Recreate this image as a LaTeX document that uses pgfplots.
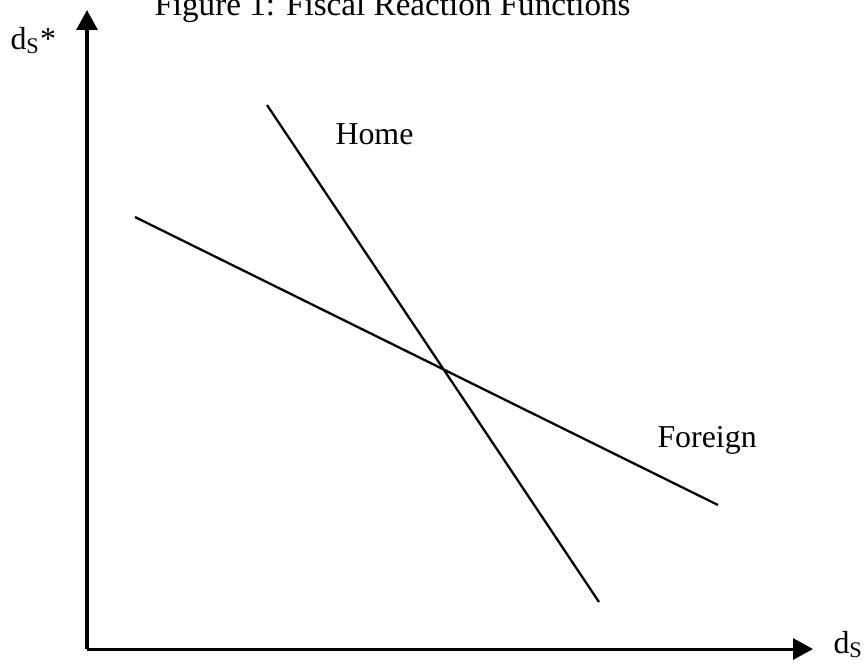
\documentclass[border=0pt]{standalone}
\usepackage{pgfplots}
\pgfplotsset{compat=1.18}
\usepackage{fontspec}
\setmainfont{Liberation Serif}
\usetikzlibrary{arrows.meta}
\tikzset{lbl/.style={font=\fontsize{12.6}{15}\selectfont, inner sep=0pt, anchor=base west}}
\begin{document}
\begin{tikzpicture}
\begin{axis}[
  scale only axis, width=10.0833cm, height=8.875cm,
  xmin=87, xmax=813, ymin=18, ymax=657,
  axis lines=left,
  axis line style={line width=1.2pt, -{Triangle[length=7.9pt,width=8.3pt]}},
  xtick=\empty, ytick=\empty, clip=false,
]
% Home reaction function
\addplot[black, line width=0.9pt] coordinates {(267,562) (599,65)};
% Foreign reaction function
\addplot[black, line width=0.9pt] coordinates {(135,450) (718,162)};
\node[lbl] at (axis cs:335,523) {Home};
\node[lbl] at (axis cs:657,220) {Foreign};
\node[lbl] at (axis cs:10,618) {d\textsubscript{S}*};
\node[lbl] at (axis cs:833,14) {d\textsubscript{S}};
\node[lbl, font=\fontsize{13.1}{15}\selectfont] at (axis cs:154,652) {Figure 1: Fiscal Reaction Functions};
\coordinate (bl) at (axis cs:0,0);
\coordinate (tr) at (axis cs:864,667);
\end{axis}
\pgfresetboundingbox
\useasboundingbox (bl) rectangle (tr);
\end{tikzpicture}
\end{document}
